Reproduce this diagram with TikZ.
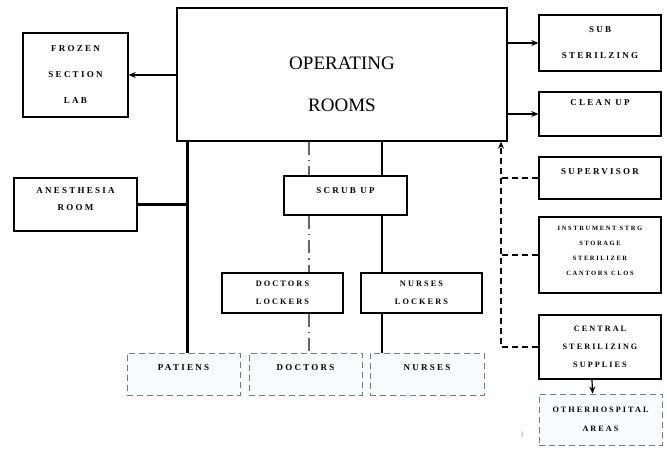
\documentclass[tikz,border=0pt]{standalone}
\usepackage{fontspec}
\setmainfont{Liberation Serif}
\newfontfamily\bx[LetterSpace=25]{Liberation Serif}
\usetikzlibrary{arrows.meta}
\newcommand{\lift}[2]{\raisebox{#1}[0pt][0pt]{\begin{tabular}{@{}c@{}}#2\end{tabular}}}
\tikzset{
  boxbase/.style={draw=black, line width=1.3pt, fill=white, inner sep=0pt, font=\bx\bfseries\fontsize{9}{18}\selectfont},
  box/.style={boxbase, align=center},
  dbox/.style={draw=gray!60!cyan!70!black, line width=0.8pt, dash pattern=on 6pt off 4pt, fill=cyan!3, inner sep=0pt, align=center, font=\bx\bfseries\fontsize{9}{19}\selectfont},
  arr/.style={line width=1.2pt, -{Stealth[length=7pt,width=6pt]}},
  thick line/.style={line width=3pt},
  dashline/.style={line width=1.3pt, dash pattern=on 6pt off 4pt},
  dashdot/.style={line width=1.4pt, draw=black!60, dash pattern=on 13pt off 5pt on 1.5pt off 5pt},
  solidline/.style={line width=1.3pt}
}
\begin{document}
\begin{tikzpicture}[x=1pt,y=-1pt]
\useasboundingbox (0,0) rectangle (667,449);
\fill[white] (0,0) rectangle (667,449);
% main box
\node[boxbase, minimum width=330pt, minimum height=133pt, font=\fontsize{19}{42}\selectfont] (or) at (342,74.5) {\lift{-12.25pt}{OPERATING\\ROOMS}};
% left
\node[box, minimum width=105pt, minimum height=84pt, font=\bx\bfseries\fontsize{9}{26}\selectfont] (frozen) at (75.5,75) {FROZEN\\SECTION\\LAB};
\node[boxbase, minimum width=123pt, minimum height=53pt, font=\bx\bfseries\fontsize{9}{17}\selectfont] (anes) at (75.5,204.5) {\lift{3.4pt}{ANESTHESIA\\ROOM}};
% right column
\node[box, minimum width=122pt, minimum height=56pt, font=\bx\bfseries\fontsize{9}{26}\selectfont] (sub) at (600,43) {SUB\\STERILZING};
\node[box, minimum width=122pt, minimum height=44pt] (clean) at (600,114) {\raisebox{22pt}{CLEAN UP}};
\node[box, minimum width=122pt, minimum height=42pt] (super) at (600,178) {\raisebox{12pt}{SUPERVISOR}};
\node[boxbase, minimum width=122pt, minimum height=76pt, font=\bx\bfseries\fontsize{6.5}{15}\selectfont] (instr) at (600,255) {\lift{3.1pt}{INSTRUMENT STRG\\STORAGE\\STERILIZER\\CANTORS CLOS}};
\node[box, minimum width=122pt, minimum height=64pt, font=\bx\bfseries\fontsize{8.2}{18}\selectfont] (central) at (600,347) {CENTRAL\\STERILIZING\\SUPPLIES};
\node[dbox, minimum width=123pt, minimum height=51pt, font=\bx\bfseries\fontsize{8.2}{19}\selectfont] (other) at (600.5,419.5) {OTHERHOSPITAL\\AREAS};
% middle
\node[box, minimum width=123pt, minimum height=39pt] (scrub) at (345.5,195.5) {\raisebox{10pt}{SCRUB UP}};
\node[box, minimum width=121pt, minimum height=40pt, font=\bx\bfseries\fontsize{8.3}{18}\selectfont] (dlock) at (282.5,293) {DOCTORS\\LOCKERS};
\node[box, minimum width=121pt, minimum height=40pt, font=\bx\bfseries\fontsize{8.3}{18}\selectfont] (nlock) at (421.5,293) {NURSES\\LOCKERS};
% bottom row
\node[dbox, minimum width=113pt, minimum height=42pt] (pat) at (183.5,374) {\raisebox{12pt}{PATIENS}};
\node[dbox, minimum width=113pt, minimum height=42pt] (doc) at (305.5,374) {\raisebox{12pt}{DOCTORS}};
\node[dbox, minimum width=114pt, minimum height=42pt] (nur) at (427,374) {\raisebox{12pt}{NURSES}};
\node[font=\fontsize{7}{8}\selectfont, text=gray] (paren) at (522,435) {)};
% solid arrows
\draw[arr] (frozen.east -| or.west) -- (frozen.east);
\draw[arr] (sub.west -| or.east) -- (sub.west);
\draw[arr] (clean.west -| or.east) -- (clean.west);
\draw[arr] ([xshift=-8pt]central.south) -- ([xshift=-8pt]other.north);
% dashed bus
\coordinate (bustop) at (501,0);
\draw[dashline, -{Stealth[length=7pt,width=6pt]}] (central.west) -- (central.west -| bustop) -- (bustop |- or.south);
\draw[dashline] (super.west) -- (super.west -| bustop);
\draw[dashline] (instr.west) -- (instr.west -| bustop);
% thick patient line
\coordinate (px) at (187,0);
\draw[thick line] (px |- or.south) -- (px |- pat.north);
\draw[thick line] (anes.east) -- (anes.east -| px);
% doctors dash-dot
\coordinate (dx) at (309,0);
\draw[dashdot] (dx |- or.south) -- (dx |- scrub.north);
\draw[dashdot] (dx |- scrub.south) -- (dx |- dlock.north);
\draw[dashdot] (dx |- dlock.south) -- (dx |- doc.north);
% nurses solid
\coordinate (nx) at (382,0);
\draw[solidline] (nx |- or.south) -- (nx |- scrub.north);
\draw[solidline] (nx |- scrub.south) -- (nx |- nlock.north);
\draw[solidline] (nx |- nlock.south) -- (nx |- nur.north);
\end{tikzpicture}
\end{document}
